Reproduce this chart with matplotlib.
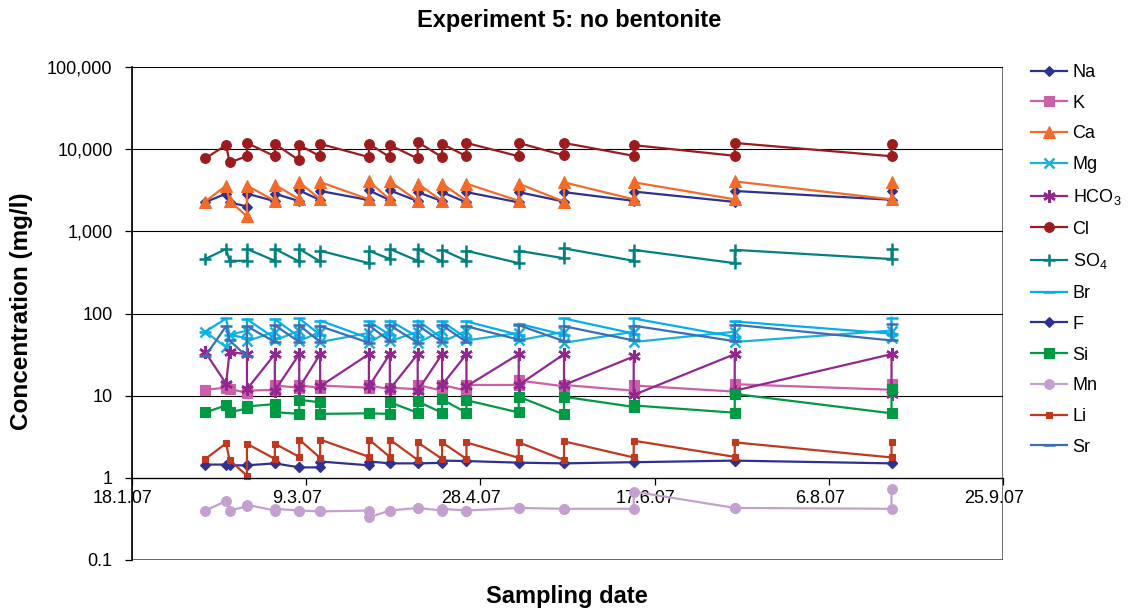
"""Experiment 5 (no bentonite): concentration vs sampling date, log scale."""

import matplotlib
matplotlib.use("Agg")
import matplotlib.pyplot as plt
import matplotlib.transforms as mtransforms
import pandas as pd
from matplotlib.patches import Rectangle

plt.rcParams.update({
    "font.family": "sans-serif",
    "font.sans-serif": ["Liberation Sans", "DejaVu Sans"],
    "mathtext.fontset": "custom",
    "mathtext.rm": "Liberation Sans",
    "mathtext.it": "Liberation Sans",
    "font.size": 13,
})

# ── data (mg/l); two samples per date from 20.2.07 on ─────────────────
dates = [
    "2007-02-08", "2007-02-14", "2007-02-15",
    "2007-02-20", "2007-02-20", "2007-02-28", "2007-02-28",
    "2007-03-07", "2007-03-07", "2007-03-13", "2007-03-13",
    "2007-03-27", "2007-03-27", "2007-04-02", "2007-04-02",
    "2007-04-10", "2007-04-10", "2007-04-17", "2007-04-17",
    "2007-04-24", "2007-04-24", "2007-05-09", "2007-05-09",
    "2007-05-22", "2007-05-22", "2007-06-11", "2007-06-11",
    "2007-07-10", "2007-07-10", "2007-08-24", "2007-08-24",
]

na = [2260, 2870, 2260, 2000, 2870, 2330, 2870, 2330, 3150, 2400, 3100,
      2400, 3150, 2400, 3150, 2330, 3000, 2330, 3000, 2250, 3000, 2250, 3000,
      2300, 3000, 2350, 3050, 2280, 3100, 2420, 3060]
k = [11.8, 12.5, 12.1, 10.8, 11.5, 11.8, 13.3, 12.5, 13.3, 12.5, 13.3,
     12.5, 13.3, 12.0, 12.5, 12.0, 13.5, 11.5, 13.5, 11.5, 13.5, 13.5, 15.3,
     13.0, 13.5, 11.5, 13.3, 11.2, 13.8, 11.8, 14.0]
ca = [2300, 3600, 2350, 1520, 3600, 2350, 3700, 2450, 3980, 2450, 3980,
      2450, 4050, 2450, 4050, 2350, 3800, 2350, 3800, 2350, 3800, 2350, 3800,
      2300, 3950, 2450, 3950, 2450, 4050, 2450, 3950]
mg = [60, 39, 55, 62, 46, 60, 47, 62, 46, 60, 45, 58, 44, 62, 46, 60, 44,
      62, 45, 62, 47, 58, 47, 60, 44, 60, 45, 60, 45, 62, 50]
hco3 = [34, 14, 34, 32, 12, 32, 11.5, 32, 12.5, 32, 13, 32, 13, 32, 12, 32,
        11.5, 32, 13.5, 32, 13, 32, 13.5, 32, 13.5, 30, 10.2, 32, 11.5, 32, 10.5]
cl = [7700, 11200, 6900, 8200, 11900, 8200, 11600, 7300, 11200, 8200, 11600,
      8000, 11600, 8000, 11200, 7700, 12200, 8000, 11600, 8200, 11900, 8200,
      11900, 8400, 11900, 8300, 11200, 8300, 11900, 8200, 11600]
so4 = [460, 610, 438, 438, 610, 438, 610, 430, 610, 430, 580, 410, 580, 460,
       610, 438, 610, 430, 595, 438, 580, 410, 580, 470, 620, 438, 595, 410,
       595, 460, 610]
br = [60, 87, 55, 50, 85, 50, 85, 52, 87, 55, 82, 50, 80, 55, 82, 52, 82,
      50, 80, 50, 80, 55, 75, 55, 87, 57, 87, 52, 80, 57, 89]
f = [1.45, 1.45, 1.42, 1.42, 1.42, 1.5, 1.5, 1.34, 1.34, 1.34, 1.58, 1.42,
     1.58, 1.5, 1.5, 1.5, 1.5, 1.52, 1.62, 1.6, 1.6, 1.53, 1.53, 1.5, 1.5,
     1.55, 1.55, 1.62, 1.62, 1.5, 1.5]
si = [6.25, 7.6, 6.25, 7.0, 7.4, 7.9, 6.3, 6.0, 8.9, 8.3, 6.0, 6.1, 6.1,
      6.0, 8.3, 6.2, 8.5, 6.2, 9.0, 6.2, 8.8, 6.25, 9.7, 5.9, 9.7, 7.3, 7.6,
      6.2, 10.5, 6.1, 12.0]
mn = [0.40, 0.52, 0.40, 0.45, 0.47, 0.40, 0.42, 0.40, 0.40, 0.39, 0.39,
      0.40, 0.33, 0.40, 0.40, 0.43, 0.43, 0.40, 0.42, 0.40, 0.40, 0.43, 0.43,
      0.42, 0.42, 0.42, 0.68, 0.43, 0.43, 0.42, 0.73]
li = [1.69, 2.63, 1.65, 1.06, 2.6, 1.7, 2.6, 1.8, 2.92, 1.75, 2.92, 1.8,
      2.92, 1.8, 2.92, 1.65, 2.7, 1.7, 2.7, 1.7, 2.7, 1.75, 2.7, 1.65, 2.78,
      1.77, 2.83, 1.8, 2.7, 1.77, 2.7]
sr = [30, 70, 47, 30, 70, 45, 72, 45, 72, 45, 70, 44, 72, 46, 72, 44, 72,
      45, 72, 45, 70, 48, 72, 46, 70, 47, 71, 46, 73, 47, 75]

tick_dates = ["2007-01-18", "2007-03-09", "2007-04-28",
              "2007-06-17", "2007-08-06", "2007-09-25"]
y_ticks = [0.1, 1, 10, 100, 1000, 10000, 100000]
y_labels = ["0.1", "1", "10", "100", "1,000", "10,000", "100,000"]

# (label, values, colour, marker, markersize)
SERIES = [
    ("Na", na, "#2E3192", "D", 5.5),
    ("K", k, "#CC5FA8", "s", 7),
    ("Ca", ca, "#F26B2A", "^", 8),
    ("Mg", mg, "#19B2D9", "x", 7),
    ("HCO$_3$", hco3, "#92278F", (6, 2, 0), 9),
    ("Cl", cl, "#9B1B1E", "o", 7),
    ("SO$_4$", so4, "#008080", "+", 9),
    ("Br", br, "#00B0EE", "_", 9),
    ("F", f, "#2E3192", "D", 5.5),
    ("Si", si, "#009A44", "s", 7),
    ("Mn", mn, "#C3A0CF", "o", 7),
    ("Li", li, "#C0391E", "s", 5),
    ("Sr", sr, "#3C6EB4", "_", 9),
]

x = pd.to_datetime(dates)

fig = plt.figure(figsize=(11.29, 6.12), dpi=100)
ax = fig.add_axes([132 / 1129, 1 - 560 / 612, 871 / 1129, 493 / 612])

for label, vals, color, marker, ms in SERIES:
    ax.plot(x, vals, color=color, linewidth=1.6, marker=marker, markersize=ms,
            markeredgewidth=1.8 if marker in ("x", "+", "_", (6, 2, 0)) else 0.8,
            markeredgecolor=color, markerfacecolor=color, label=label)

ax.set_yscale("log")
ax.set_ylim(0.1, 100000)
ax.set_yticks(y_ticks, labels=y_labels)
ax.yaxis.set_minor_locator(matplotlib.ticker.NullLocator())
ax.grid(axis="y", which="major", color="black", linewidth=0.8)
ax.set_axisbelow(True)

ax.set_xlim(pd.Timestamp(tick_dates[0]), pd.Timestamp(tick_dates[-1]))
td = pd.to_datetime(tick_dates)
ax.set_xticks(td, labels=[f"{d.day}.{d.month}.{d:%y}" for d in td])

# x axis crosses the value axis at 1
for s in ("top", "right"):
    ax.spines[s].set_visible(False)
ax.spines["bottom"].set_position(("data", 1))
ax.spines["bottom"].set_linewidth(0.9)
ax.spines["left"].set_linewidth(1.2)
ax.add_patch(Rectangle((0, 0), 1, 1, transform=ax.transAxes, fill=False,
                       edgecolor="#555555", linewidth=1.2, zorder=0.5))
ax.tick_params(axis="x", direction="out", length=5, width=0.9, pad=4, labelsize=13)
ax.tick_params(axis="y", direction="out", length=5, width=0.9, pad=9, labelsize=13)

# Excel draws the date labels a little left of their tick marks
shift = mtransforms.ScaledTranslation(-9 / 100, 0, fig.dpi_scale_trans)
for lbl in ax.get_xticklabels():
    lbl.set_transform(lbl.get_transform() + shift)

fig.text(569 / 1129, 1 - 20 / 612, "Experiment 5: no bentonite", ha="center",
         va="center", fontsize=17, fontweight="bold")
fig.text(22 / 1129, 1 - 311 / 612, "Concentration (mg/l)", ha="center",
         va="center", rotation=90, fontsize=17.5, fontweight="bold")
fig.text(567 / 1129, 1 - 596 / 612, "Sampling date", ha="center",
         va="center", fontsize=17, fontweight="bold")

fig.legend(loc="upper left", bbox_to_anchor=(1031 / 1129, 1 - 64 / 612),
           frameon=False, fontsize=13, handlelength=2.0, handletextpad=0.3,
           labelspacing=0.76, borderpad=0, borderaxespad=0, numpoints=1)

fig.savefig("out.png", dpi=100)
